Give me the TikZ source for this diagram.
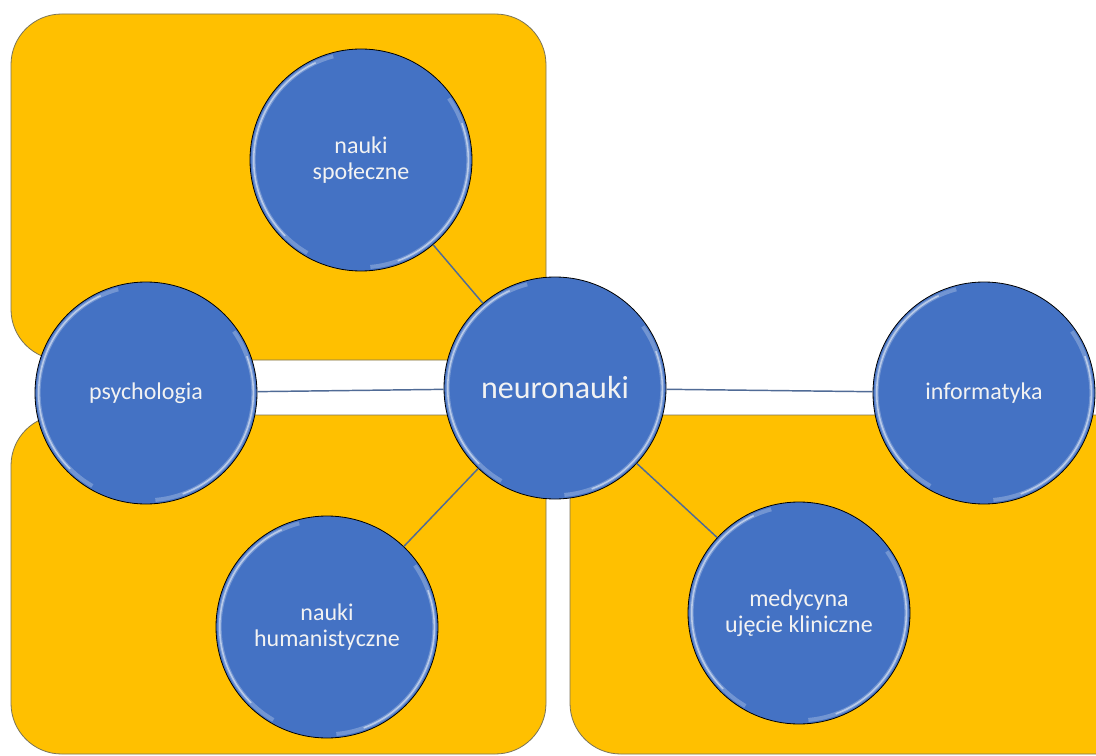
\documentclass[tikz,border=0pt]{standalone}
\usepackage{fontspec}
\setmainfont{Carlito}
\definecolor{boxorange}{HTML}{FFC000}
\definecolor{boxedge}{HTML}{7A7458}
\definecolor{discblue}{HTML}{4472C4}
\definecolor{linkgrey}{HTML}{506B96}
\begin{document}
\begin{tikzpicture}[x=0.75pt,y=-0.75pt,
    field/.style={fill=boxorange,draw=boxedge,line width=0.6pt,rounded corners=38pt},
    disc/.style={circle,fill=discblue,draw=black,line width=0.6pt,minimum size=166.5pt,
      inner sep=0pt,align=center,text=white!95!black,font=\fontsize{18}{19.5}\selectfont,
      path picture={
        \draw[white,opacity=.25,line width=3pt] ([shift={(105:80.5pt)}]path picture bounding box.center)
          arc[start angle=105,end angle=240,radius=80.5pt];
        \draw[white,opacity=.5,line width=1.2pt] ([shift={(115:80.5pt)}]path picture bounding box.center)
          arc[start angle=115,end angle=225,radius=80.5pt];
        \draw[white,opacity=.25,line width=3pt] ([shift={(-85:80.5pt)}]path picture bounding box.center)
          arc[start angle=-85,end angle=35,radius=80.5pt];
        \draw[white,opacity=.5,line width=1.2pt] ([shift={(-70:80.5pt)}]path picture bounding box.center)
          arc[start angle=-70,end angle=20,radius=80.5pt];}},
    link/.style={draw=linkgrey,line width=1.1pt}]
  \useasboundingbox (0,0) rectangle (1096,756);
  \clip (0,0) rectangle (1096,756);

  \fill[white] (0,0) rectangle (1096,756);
  \draw[field] (11,14) rectangle (546,360);
  \draw[field] (11,415) rectangle (546,754);
  \draw[field] (570,415) rectangle (1160,754);

  \node[disc,font=\fontsize{24}{28}\selectfont] (neuro) at (555,388) {neuronauki};
  \node[disc] (spol) at (361,160) {nauki\\społeczne};
  \node[disc] (psych) at (146,393) {psychologia};
  \node[disc] (info) at (984,393) {informatyka};
  \node[disc] (human) at (327,627) {nauki\\humanistyczne};
  \node[disc] (med) at (799,613) {medycyna\\ujęcie kliniczne};

  \draw[link] (neuro) -- (spol);
  \draw[link] (neuro) -- (psych);
  \draw[link] (neuro) -- (info);
  \draw[link] (neuro) -- (human);
  \draw[link] (neuro) -- (med);
\end{tikzpicture}
\end{document}
